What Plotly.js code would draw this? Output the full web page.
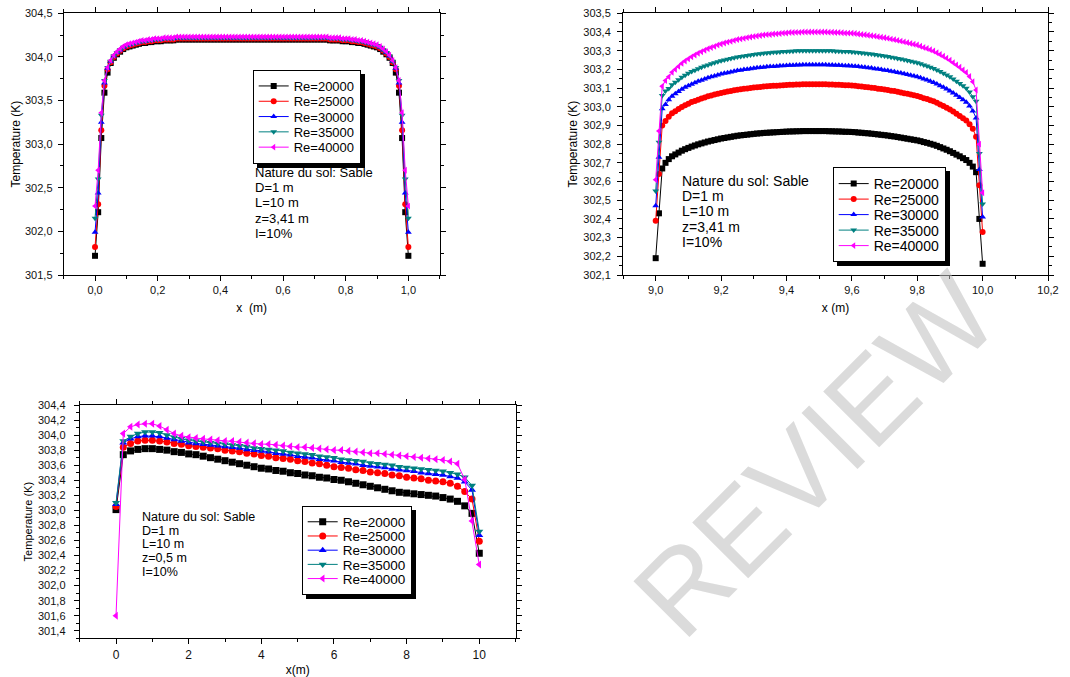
<!DOCTYPE html>
<html>
<head>
<meta charset="utf-8">
<script src="https://cdn.plot.ly/plotly-3.0.1.min.js"></script>
<style>
html,body{margin:0;padding:0;background:#fff;}
#chart{width:1070px;height:677px;}
g.legend > rect.bg, g.legend2 > rect.bg, g.legend3 > rect.bg { filter: drop-shadow(4px 4px 0px #000); }
</style>
</head>
<body>
<div id="chart"></div>
<script>
// ---------- series names / styles ----------
const seriesNames = ['Re=20000','Re=25000','Re=30000','Re=35000','Re=40000'];
const seriesColors = ['#000000','#ff0000','#0000ff','#008080','#ff00ff'];
const seriesSymbols = ['square','circle','triangle-up','triangle-down','triangle-left'];

// ---------- plot 1 : z = 3,41 m, x from 0 to 1 m ----------
const x1 = [0,0.01,0.02,0.03,0.04,0.05,0.06,0.07,0.08,0.09,0.1,0.11,0.12,0.13,0.14,0.15,0.16,0.17,0.18,0.19,0.2,0.21,0.22,0.23,0.24,0.25,0.26,0.27,0.28,0.29,0.3,0.31,0.32,0.33,0.34,0.35,0.36,0.37,0.38,0.39,0.4,0.41,0.42,0.43,0.44,0.45,0.46,0.47,0.48,0.49,0.5,0.51,0.52,0.53,0.54,0.55,0.56,0.57,0.58,0.59,0.6,0.61,0.62,0.63,0.64,0.65,0.66,0.67,0.68,0.69,0.7,0.71,0.72,0.73,0.74,0.75,0.76,0.77,0.78,0.79,0.8,0.81,0.82,0.83,0.84,0.85,0.86,0.87,0.88,0.89,0.9,0.91,0.92,0.93,0.94,0.95,0.96,0.97,0.98,0.99,1];

const t1_20000 = [301.72,302.22,303.07,303.59,303.82,
303.93,303.99,304.03,304.06,304.09,304.11,304.12,304.13,304.14,304.15,304.16,304.16,304.17,304.17,304.18,304.18,304.18,304.19,304.19,304.19,304.19,
304.2,304.2,304.2,304.2,304.2,304.2,304.2,
304.2,304.2,304.2,304.2,304.2,304.2,304.2,
304.2,304.2,304.2,304.2,304.2,304.2,304.2,
304.2,304.2,304.2,304.2,304.2,304.2,304.2,
304.2,304.2,304.2,304.2,304.2,304.2,304.2,
304.2,304.2,304.2,304.2,304.2,304.2,304.2,
304.2,304.2,304.2,304.2,304.2,304.2,304.2,
304.19,304.19,304.19,304.19,304.18,304.18,304.18,304.17,304.17,304.16,304.16,304.15,304.14,304.13,304.12,304.11,304.09,304.06,304.03,303.99,303.93,
303.82,303.59,303.07,302.22,301.72];

const t1_25000 = [301.82,302.31,303.16,303.67,303.86,
303.94,304.00,304.04,304.07,304.10,304.12,304.13,304.14,304.15,304.16,304.17,304.17,304.18,304.18,304.19,304.19,304.19,304.20,304.20,304.20,304.20,
304.21,304.21,304.21,304.21,304.21,304.21,304.21,
304.21,304.21,304.21,304.21,304.21,304.21,304.21,
304.21,304.21,304.21,304.21,304.21,304.21,304.21,
304.21,304.21,304.21,304.21,304.21,304.21,304.21,
304.21,304.21,304.21,304.21,304.21,304.21,304.21,
304.21,304.21,304.21,304.21,304.21,304.21,304.21,
304.21,304.21,304.21,304.21,304.21,304.21,304.21,
304.20,304.20,304.20,304.20,304.19,304.19,304.19,304.18,304.18,304.17,304.17,304.16,304.15,304.14,304.13,304.12,304.10,304.07,304.04,304.00,303.94,
303.86,303.67,303.16,302.31,301.82];

const t1_30000 = [301.99,302.44,303.25,303.70,303.87,
303.95,304.01,304.05,304.08,304.11,304.13,304.14,304.15,304.16,304.17,304.18,304.18,304.19,304.19,304.20,304.20,304.20,304.21,304.21,304.21,304.21,
304.22,304.22,304.22,304.22,304.22,304.22,304.22,
304.22,304.22,304.22,304.22,304.22,304.22,304.22,
304.22,304.22,304.22,304.22,304.22,304.22,304.22,
304.22,304.22,304.22,304.22,304.22,304.22,304.22,
304.22,304.22,304.22,304.22,304.22,304.22,304.22,
304.22,304.22,304.22,304.22,304.22,304.22,304.22,
304.22,304.22,304.22,304.22,304.22,304.22,304.22,
304.21,304.21,304.21,304.21,304.20,304.20,304.20,304.19,304.19,304.18,304.18,304.17,304.16,304.15,304.14,304.13,304.11,304.08,304.05,304.01,303.95,
303.87,303.70,303.25,302.44,301.99];

const t1_35000 = [302.15,302.60,303.33,303.73,303.88,
303.95,304.01,304.05,304.08,304.11,304.13,304.14,304.15,304.16,304.17,304.18,304.18,304.19,304.19,304.20,304.20,304.20,304.21,304.21,304.21,304.21,
304.22,304.22,304.22,304.22,304.22,304.22,304.22,
304.22,304.22,304.22,304.22,304.22,304.22,304.22,
304.22,304.22,304.22,304.22,304.22,304.22,304.22,
304.22,304.22,304.22,304.22,304.22,304.22,304.22,
304.22,304.22,304.22,304.22,304.22,304.22,304.22,
304.22,304.22,304.22,304.22,304.22,304.22,304.22,
304.22,304.22,304.22,304.22,304.22,304.22,304.22,
304.21,304.21,304.21,304.21,304.20,304.20,304.20,304.19,304.19,304.18,304.18,304.17,304.16,304.15,304.14,304.13,304.11,304.08,304.05,304.01,303.95,
303.88,303.73,303.33,302.60,302.15];

const t1_40000 = [302.29,302.70,303.36,303.73,303.88,
303.96,304.02,304.06,304.09,304.12,304.14,304.15,304.16,304.17,304.18,304.19,304.19,304.20,304.20,304.21,304.21,304.21,304.22,304.22,304.22,304.22,
304.23,304.23,304.23,304.23,304.23,304.23,304.23,
304.23,304.23,304.23,304.23,304.23,304.23,304.23,
304.23,304.23,304.23,304.23,304.23,304.23,304.23,
304.23,304.23,304.23,304.23,304.23,304.23,304.23,
304.23,304.23,304.23,304.23,304.23,304.23,304.23,
304.23,304.23,304.23,304.23,304.23,304.23,304.23,
304.23,304.23,304.23,304.23,304.23,304.23,304.23,
304.22,304.22,304.22,304.22,304.21,304.21,304.21,304.20,304.20,304.19,304.19,304.18,304.17,304.16,304.15,304.14,304.12,304.09,304.06,304.02,303.96,
303.88,303.73,303.36,302.70,302.29];

// ---------- plot 2 : z = 3,41 m, x from 9 to 10 m ----------
const x2 = [9,9.01,9.02,9.03,9.04,9.05,9.06,9.07,9.08,9.09,9.1,9.11,9.12,9.13,9.14,9.15,9.16,9.17,9.18,9.19,9.2,9.21,9.22,9.23,9.24,9.25,9.26,9.27,9.28,9.29,9.3,9.31,9.32,9.33,9.34,9.35,9.36,9.37,9.38,9.39,9.4,9.41,9.42,9.43,9.44,9.45,9.46,9.47,9.48,9.49,9.5,9.51,9.52,9.53,9.54,9.55,9.56,9.57,9.58,9.59,9.6,9.61,9.62,9.63,9.64,9.65,9.66,9.67,9.68,9.69,9.7,9.71,9.72,9.73,9.74,9.75,9.76,9.77,9.78,9.79,9.8,9.81,9.82,9.83,9.84,9.85,9.86,9.87,9.88,9.89,9.9,9.91,9.92,9.93,9.94,9.95,9.96,9.97,9.98,9.99,10];

const t2_20000 = [302.19,302.43,302.67,302.70,302.72,302.735,302.745,302.755,302.765,302.773,
302.78,302.787,302.793,302.799,302.804,302.809,302.814,302.818,302.822,302.826,
302.83,302.833,302.836,302.839,302.842,302.845,302.847,302.849,302.851,302.853,
302.855,302.857,302.858,302.86,302.861,302.862,302.863,302.864,302.865,302.866,
302.867,302.868,302.868,302.869,302.869,302.87,302.87,302.87,302.87,302.87,
302.87,302.87,302.87,302.869,302.869,302.868,302.868,302.867,302.866,302.866,
302.865,302.864,302.862,302.861,302.859,302.858,302.856,302.854,302.852,302.85,
302.848,302.846,302.843,302.841,302.838,302.835,302.832,302.829,302.826,302.823,
302.82,302.816,302.811,302.807,302.802,302.797,302.791,302.784,302.777,302.77,
302.762,302.753,302.744,302.735,302.725,302.715,302.70,302.68,302.65,302.40,
302.16];

const t2_25000 = [302.39,302.64,302.90,302.924,302.947,302.965,302.976,302.988,302.999,303.008,
303.016,303.025,303.031,303.038,303.044,303.05,303.056,303.06,303.065,303.069,
303.074,303.077,303.081,303.084,303.088,303.091,303.094,303.096,303.098,303.10,
303.103,303.105,303.106,303.108,303.11,303.111,303.112,303.113,303.114,303.115,
303.117,303.118,303.118,303.119,303.119,303.12,303.12,303.12,303.12,303.12,
303.12,303.12,303.12,303.119,303.119,303.118,303.118,303.116,303.115,303.115,
303.114,303.112,303.11,303.109,303.106,303.105,303.102,303.10,303.097,303.095,
303.092,303.09,303.086,303.084,303.08,303.076,303.072,303.069,303.065,303.061,
303.057,303.052,303.046,303.041,303.035,303.029,303.021,303.012,303.004,302.995,
302.985,302.974,302.962,302.951,302.939,302.926,302.907,302.882,302.84,302.58,
302.33];

const t2_30000 = [302.47,302.73,302.99,303.012,303.037,303.056,303.069,303.081,303.094,303.104,
303.112,303.121,303.129,303.136,303.142,303.149,303.155,303.16,303.165,303.17,
303.175,303.179,303.182,303.186,303.19,303.194,303.196,303.199,303.201,303.204,
303.206,303.209,303.21,303.212,303.214,303.215,303.216,303.217,303.219,303.22,
303.221,303.222,303.222,303.224,303.224,303.225,303.225,303.225,303.225,303.225,
303.225,303.225,303.225,303.224,303.224,303.222,303.222,303.221,303.22,303.22,
303.218,303.217,303.215,303.213,303.211,303.209,303.207,303.204,303.202,303.199,
303.196,303.194,303.19,303.187,303.183,303.18,303.176,303.172,303.168,303.164,
303.16,303.155,303.148,303.143,303.137,303.13,303.122,303.113,303.104,303.095,
303.085,303.073,303.061,303.05,303.037,303.024,303.004,302.978,302.94,302.665,
302.41];

const t2_35000 = [302.55,302.81,303.06,303.085,303.098,303.118,303.131,303.145,303.158,303.169,
303.179,303.188,303.196,303.204,303.211,303.218,303.224,303.23,303.235,303.241,
303.246,303.25,303.254,303.258,303.262,303.266,303.269,303.272,303.274,303.277,
303.28,303.282,303.284,303.286,303.288,303.289,303.291,303.292,303.293,303.295,
303.296,303.297,303.297,303.299,303.299,303.30,303.30,303.30,303.30,303.30,
303.30,303.30,303.30,303.299,303.299,303.297,303.297,303.296,303.295,303.295,
303.293,303.292,303.29,303.288,303.286,303.284,303.282,303.279,303.277,303.274,
303.271,303.269,303.265,303.262,303.258,303.255,303.251,303.247,303.243,303.239,
303.235,303.23,303.223,303.218,303.212,303.205,303.197,303.188,303.179,303.17,
303.16,303.148,303.136,303.125,303.112,303.099,303.079,303.053,303.03,302.75,
302.48];

const t2_40000 = [302.61,302.87,303.11,303.14,303.16,303.184,303.20,303.216,303.232,303.245,
303.256,303.267,303.277,303.286,303.294,303.302,303.31,303.317,303.323,303.33,
303.336,303.341,303.346,303.35,303.355,303.36,303.363,303.366,303.37,303.373,
303.376,303.379,303.381,303.384,303.386,303.387,303.389,303.39,303.392,303.394,
303.395,303.397,303.397,303.398,303.398,303.40,303.40,303.40,303.40,303.40,
303.40,303.40,303.40,303.399,303.399,303.397,303.397,303.396,303.394,303.394,
303.393,303.392,303.389,303.387,303.385,303.383,303.38,303.378,303.375,303.372,
303.369,303.366,303.362,303.359,303.355,303.351,303.347,303.343,303.338,303.334,
303.33,303.324,303.317,303.312,303.305,303.298,303.289,303.28,303.27,303.26,
303.249,303.236,303.224,303.211,303.197,303.183,303.162,303.134,303.09,302.80,
302.54];

// ---------- plot 3 : z = 0,5 m, x from 0 to 10 m ----------
const x3 = [0,0.2,0.4,0.6,0.8,1,1.2,1.4,1.6,1.8,2,2.2,2.4,2.6,2.8,3,3.2,3.4,3.6,3.8,4,4.2,4.4,4.6,4.8,5,5.2,5.4,5.6,5.8,6,6.2,6.4,6.6,6.8,7,7.2,7.4,7.6,7.8,8,8.2,8.4,8.6,8.8,9,9.2,9.4,9.6,9.8,10];

const t3_20000 = [303.01,303.74,303.79,303.81,303.82,303.82,303.81,303.80,303.78,303.77,
303.75,303.74,303.72,303.70,303.68,303.66,303.64,303.62,303.60,303.58,
303.56,303.55,303.53,303.52,303.50,303.49,303.47,303.46,303.44,303.43,
303.41,303.40,303.38,303.36,303.34,303.32,303.30,303.28,303.26,303.24,
303.23,303.22,303.21,303.20,303.19,303.17,303.15,303.12,303.06,302.96,
302.43];

const t3_25000 = [303.05,303.84,303.89,303.92,303.93,303.93,303.92,303.91,303.89,303.88,
303.86,303.85,303.84,303.83,303.82,303.80,303.79,303.78,303.76,303.75,
303.73,303.72,303.70,303.69,303.68,303.66,303.65,303.63,303.62,303.60,
303.58,303.57,303.56,303.54,303.53,303.51,303.50,303.49,303.47,303.46,
303.44,303.43,303.42,303.40,303.39,303.38,303.36,303.32,303.25,303.15,
302.59];

const t3_30000 = [303.08,303.90,303.95,303.98,303.99,303.99,303.98,303.96,303.94,303.92,
303.90,303.89,303.88,303.87,303.86,303.85,303.84,303.83,303.81,303.80,
303.79,303.78,303.76,303.75,303.74,303.72,303.71,303.70,303.68,303.67,
303.66,303.64,303.63,303.62,303.60,303.59,303.58,303.57,303.55,303.54,
303.53,303.52,303.50,303.49,303.48,303.47,303.45,303.43,303.38,303.27,
302.67];

const t3_35000 = [303.10,303.92,303.98,304.02,304.04,304.04,304.03,304.00,303.97,303.95,
303.93,303.92,303.91,303.90,303.89,303.88,303.87,303.86,303.85,303.83,
303.82,303.81,303.80,303.79,303.77,303.76,303.75,303.74,303.72,303.71,
303.70,303.68,303.67,303.66,303.65,303.63,303.62,303.61,303.60,303.58,
303.57,303.56,303.55,303.54,303.53,303.52,303.50,303.48,303.44,303.33,
302.72];

const t3_40000 = [301.60,304.02,304.11,304.14,304.15,304.15,304.12,304.07,304.02,303.99,
303.97,303.96,303.95,303.94,303.93,303.92,303.92,303.91,303.90,303.89,
303.88,303.88,303.87,303.86,303.85,303.84,303.84,303.83,303.82,303.81,
303.80,303.80,303.79,303.78,303.77,303.76,303.76,303.75,303.74,303.73,
303.72,303.71,303.70,303.69,303.68,303.67,303.65,303.62,303.41,302.86,
302.28];

// ---------- texts ----------
const infoLines1 = ['Nature du sol: Sable','D=1 m','L=10 m','z=3,41 m','I=10%'];
const infoLines3 = ['Nature du sol: Sable','D=1 m','L=10 m','z=0,5 m','I=10%'];

// ---------- build ----------
const W = 1070, H = 677;
const px = v => v / W;
const py = v => 1 - v / H;
const FONT = 'Liberation Sans, Arial, Helvetica, sans-serif';

function makeTraces(xs, ysList, xa, ya, legendId, msize) {
  return ysList.map((ys, k) => ({
    type: 'scatter', mode: 'lines+markers',
    x: xs, y: ys, xaxis: xa, yaxis: ya,
    name: seriesNames[k], legend: legendId,
    line: {color: seriesColors[k], width: 1},
    marker: {symbol: seriesSymbols[k], size: msize, color: seriesColors[k], line: {width: 0}},
    cliponaxis: false
  }));
}

const data = [].concat(
  makeTraces(x1, [t1_20000, t1_25000, t1_30000, t1_35000, t1_40000], 'x', 'y', 'legend', 6),
  makeTraces(x2, [t2_20000, t2_25000, t2_30000, t2_35000, t2_40000], 'x2', 'y2', 'legend2', 6),
  makeTraces(x3, [t3_20000, t3_25000, t3_30000, t3_35000, t3_40000], 'x3', 'y3', 'legend3', 7)
);

function axisBase(extra) {
  return Object.assign({
    showline: true, linecolor: '#000', linewidth: 1, mirror: 'ticks',
    ticks: 'outside', ticklen: 5, tickwidth: 1, tickcolor: '#000',
    showgrid: false, zeroline: false, fixedrange: true,
    tickfont: {family: FONT, size: 11, color: '#111'}
  }, extra);
}
function minor(dt) { return {dtick: dt, ticks: 'outside', ticklen: 3, tickwidth: 1, tickcolor: '#000', showgrid: false}; }

const layout = {
  width: W, height: H,
  margin: {l: 0, r: 0, t: 0, b: 0},
  paper_bgcolor: '#fff', plot_bgcolor: '#fff',
  separators: ', ',
  font: {family: FONT, color: '#000', size: 11},
  showlegend: true,
  xaxis: axisBase({domain: [px(63.7), px(439.7)], anchor: 'y', range: [-0.1, 1.1], tick0: 0, dtick: 0.2, tickformat: '.1f', minor: minor(0.1),
    title: {text: 'x\u00a0 (m)', font: {family: FONT, size: 12, color: '#000'}, standoff: 8}}),
  yaxis: axisBase({domain: [py(275), py(13.3)], anchor: 'x', range: [301.5, 304.5], tick0: 301.5, dtick: 0.5, tickformat: '.1f', minor: minor(0.25),
    ticklabelstandoff: 3,
    title: {text: 'Temperature (K)', font: {family: FONT, size: 12, color: '#000'}, standoff: 1}}),
  xaxis2: axisBase({domain: [px(623), px(1048)], anchor: 'y2', range: [8.9, 10.2], tick0: 9, dtick: 0.2, tickformat: '.1f', minor: minor(0.1),
    title: {text: 'x (m)', font: {family: FONT, size: 12, color: '#000'}, standoff: 8}}),
  yaxis2: axisBase({domain: [py(275), py(13.3)], anchor: 'x2', range: [302.1, 303.5], tick0: 302.1, dtick: 0.1, tickformat: '.1f', minor: minor(0.05),
    ticklabelstandoff: 4,
    title: {text: 'Temperature (K)', font: {family: FONT, size: 12, color: '#000'}, standoff: 3}}),
  xaxis3: axisBase({domain: [px(79.7), px(515.6)], anchor: 'y3', range: [-1, 11], tick0: 0, dtick: 2, minor: minor(1),
    tickfont: {family: FONT, size: 12, color: '#111'},
    title: {text: 'x(m)', font: {family: FONT, size: 12, color: '#000'}, standoff: 7}}),
  yaxis3: axisBase({domain: [py(638.3), py(405)], anchor: 'x3', range: [301.3, 304.4], tick0: 301.4, dtick: 0.2, tickformat: '.1f', minor: minor(0.1),
    ticklabelstandoff: 6,
    title: {text: 'Temperature (K)', font: {family: FONT, size: 11, color: '#000'}, standoff: 3}}),
  legend: {x: px(252.7), y: py(70), xanchor: 'left', yanchor: 'top', bgcolor: '#fff', bordercolor: '#000', borderwidth: 1,
    font: {family: FONT, size: 13, color: '#000'}, tracegroupgap: 0},
  legend2: {x: px(832.7), y: py(167), xanchor: 'left', yanchor: 'top', bgcolor: '#fff', bordercolor: '#000', borderwidth: 1,
    font: {family: FONT, size: 14, color: '#000'}, tracegroupgap: 0},
  legend3: {x: px(301.7), y: py(505.5), xanchor: 'left', yanchor: 'top', bgcolor: '#fff', bordercolor: '#000', borderwidth: 1,
    font: {family: FONT, size: 13.5, color: '#000'}, tracegroupgap: 0},
  annotations: []
};

function addInfo(lines, left, top, step, size) {
  lines.forEach((t, i) => {
    layout.annotations.push({text: t, xref: 'paper', yref: 'paper', x: px(left), y: py(top + i * step),
      xanchor: 'left', yanchor: 'middle', showarrow: false, font: {family: FONT, size: size, color: '#000'}});
  });
}
addInfo(infoLines1, 253, 172, 15.4, 13);
addInfo(infoLines1, 680, 181, 15.2, 14);
addInfo(infoLines3, 140, 516.7, 13.8, 12.5);

// watermark
layout.annotations.push({text: 'REVIEW', xref: 'paper', yref: 'paper', x: px(815), y: py(455), xanchor: 'center', yanchor: 'middle',
  showarrow: false, textangle: -45, font: {family: FONT, size: 115, color: 'rgba(190,190,190,0.55)'}});

// tighten legend rows to the spacing of the reference (native legend, rows moved closer)
const legendRowStep = {legend: 15.3, legend2: 15.5, legend3: 14.2};

Plotly.newPlot('chart', data, layout, {displayModeBar: false, staticPlot: true}).then(gd => {
  Object.keys(legendRowStep).forEach(id => {
    const g = gd.querySelector('g.' + id);
    if (!g) return;
    const items = g.querySelectorAll('g.traces');
    if (items.length < 2) return;
    const parse = el => {
      const m = /translate\(\s*([-\d.e]+)[ ,]+([-\d.e]+)\s*\)/.exec(el.getAttribute('transform') || '');
      return m ? [parseFloat(m[1]), parseFloat(m[2])] : null;
    };
    const p0 = parse(items[0]), p1 = parse(items[1]);
    if (!p0 || !p1) return;
    const oldStep = p1[1] - p0[1];
    const step = legendRowStep[id];
    items.forEach((it, k) => {
      const p = parse(it);
      if (p) it.setAttribute('transform', 'translate(' + p[0] + ',' + (p0[1] + k * step) + ')');
    });
    const bg = g.querySelector('rect.bg');
    if (bg) {
      const h = parseFloat(bg.getAttribute('height'));
      bg.setAttribute('height', h - (items.length - 1) * (oldStep - step));
    }
  });
});
</script>
</body>
</html>
